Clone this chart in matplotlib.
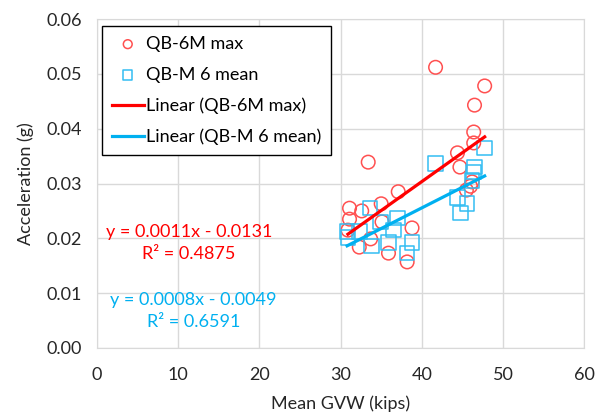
import matplotlib

matplotlib.use("Agg")
import matplotlib.pyplot as plt
import numpy as np

plt.rcParams["font.family"] = ["Lato", "DejaVu Sans"]

# QB-6M max (circles)
max_x = [41.7, 47.75, 46.5, 46.4, 46.4, 44.4, 44.7, 46.2, 46.0, 45.5, 33.4, 37.1,
         35.0, 32.6, 31.1, 31.1, 30.9, 35.1, 38.8, 33.7, 32.3, 35.9, 38.2]
max_y = [0.0512, 0.0478, 0.0443, 0.0394, 0.0374, 0.0356, 0.0330, 0.0303, 0.0295,
         0.0288, 0.0339, 0.0285, 0.0263, 0.0250, 0.0255, 0.0235, 0.0215, 0.0230,
         0.0219, 0.0199, 0.0184, 0.0173, 0.0157]
# QB-M 6 mean (squares)
mean_x = [47.75, 41.7, 46.5, 46.4, 46.2, 44.4, 45.6, 44.8, 33.6, 37.0, 34.9, 36.5,
          32.3, 30.8, 30.9, 33.8, 35.9, 38.8, 38.2]
mean_y = [0.0365, 0.0337, 0.0330, 0.0321, 0.0306, 0.0275, 0.0264, 0.0246, 0.0255,
          0.0237, 0.0230, 0.0215, 0.0212, 0.0212, 0.0202, 0.0186, 0.0192, 0.0192,
          0.0173]

RED = "#FF0000"
BLUE = "#00B0F0"
FS = 13

fig = plt.figure(figsize=(5.96, 4.19), dpi=100)
ax = fig.add_axes([0.163, 0.1695, 0.817, 0.785])

ax.scatter(max_x, max_y, s=95, facecolors="none", edgecolors="#FF5050",
           linewidths=1.1, label="QB-6M max", zorder=3)
ax.scatter(mean_x, mean_y, s=110, marker="s", facecolors="none",
           edgecolors="#33BDF2", linewidths=1.1, label="QB-M 6 mean", zorder=3)

for xs, ys, c, lab in [(max_x, max_y, RED, "Linear (QB-6M max)"),
                       (mean_x, mean_y, BLUE, "Linear (QB-M 6 mean)")]:
    k, b = np.polyfit(xs, ys, 1)
    xx = np.array([min(xs), max(xs)])
    ax.plot(xx, k * xx + b, color=c, lw=2.3, label=lab, zorder=4)

ax.set_xlim(0, 60)
ax.set_ylim(0, 0.06)
ax.set_xticks(range(0, 61, 10))
ax.set_yticks(np.arange(0, 0.061, 0.01))
ax.set_yticklabels([f"{v:.2f}" for v in np.arange(0, 0.061, 0.01)])
ax.grid(color="#D9D9D9", lw=1)
ax.set_axisbelow(True)
for s in ax.spines.values():
    s.set_color("#D9D9D9")
ax.tick_params(axis="x", length=0, labelsize=FS, colors="#262626", pad=14)
ax.tick_params(axis="y", length=0, labelsize=FS, colors="#262626", pad=11)
ax.set_xlabel("Mean GVW (kips)", fontsize=FS, color="#262626", labelpad=9)
ax.set_ylabel("Acceleration (g)", fontsize=FS, color="#262626", labelpad=9)

ax.text(11.3, 0.0191, "y = 0.0011x - 0.0131\nR² = 0.4875", color=RED,
        ha="center", va="center", fontsize=FS, linespacing=1.45)
ax.text(11.9, 0.0067, "y = 0.0008x - 0.0049\nR² = 0.6591", color=BLUE,
        ha="center", va="center", fontsize=FS, linespacing=1.45)

leg = ax.legend(loc="upper left", bbox_to_anchor=(0.01, 0.979), fontsize=FS,
                fancybox=False, edgecolor="black", framealpha=1,
                handlelength=1.75, handletextpad=0.15, borderpad=0.55,
                labelspacing=0.82, borderaxespad=0, markerscale=0.65)
leg.get_frame().set_linewidth(1)

fig.savefig("out.png", dpi=100)
